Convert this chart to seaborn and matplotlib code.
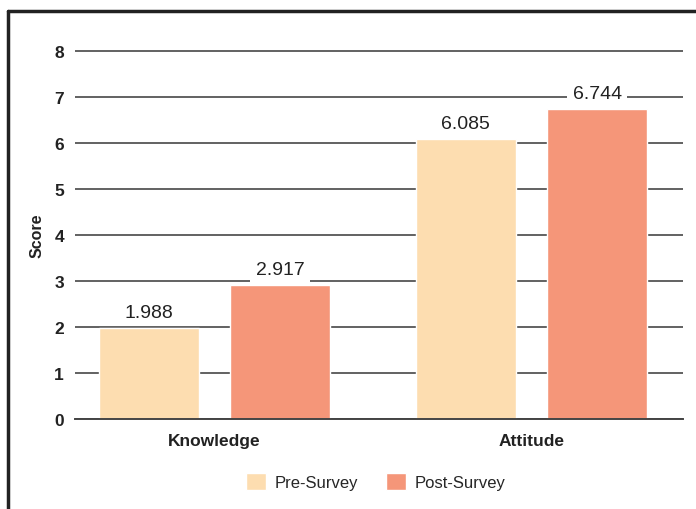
import pandas as pd
import seaborn as sns
import matplotlib.pyplot as plt
from matplotlib.lines import Line2D
from matplotlib import font_manager

# data
categories = ["Knowledge", "Attitude"]
surveys = ["Pre-Survey", "Post-Survey"]
pre_scores = [1.988, 6.085]
post_scores = [2.917, 6.744]
colors = ["#FDDDB0", "#F59679"]

df = pd.DataFrame({
    "category": categories * 2,
    "survey": [surveys[0]] * 2 + [surveys[1]] * 2,
    "score": pre_scores + post_scores,
})

sns.set_theme(style="white")
names = {f.name for f in font_manager.fontManager.ttflist}
fam = "Liberation Sans Narrow" if "Liberation Sans Narrow" in names else "Liberation Sans"
plt.rcParams["font.family"] = [fam, "DejaVu Sans"]

fig = plt.figure(figsize=(6.96, 5.10), dpi=100)
ax = fig.add_axes([0.1078, 0.1765, 0.8735, 0.7233])

sns.barplot(data=df, x="category", y="score", hue="survey", palette=colors,
            width=0.83, gap=0.237, saturation=1, ax=ax, zorder=2)

ax.set_ylim(0, 8.02)
ax.set_xlim(-0.44, 1.478)
ax.set_yticks(range(0, 9))
ax.yaxis.grid(True, color="#555555", linewidth=1.3, zorder=0)
ax.set_axisbelow(True)
for s in ["top", "right", "left"]:
    ax.spines[s].set_visible(False)
ax.spines["bottom"].set_color("#444444")
ax.spines["bottom"].set_linewidth(1.4)
ax.tick_params(axis="both", length=0, labelsize=12.5, colors="#222222")
ax.tick_params(axis="y", pad=8)
ax.tick_params(axis="x", pad=10)
for lab in ax.get_xticklabels() + ax.get_yticklabels():
    lab.set_fontweight("bold")
ax.set_xlabel("")
ax.set_ylabel("Score", fontsize=11.5, fontweight="bold", color="#222222", labelpad=7)

for cont in ax.containers:
    ax.bar_label(cont, fmt="%.3f", padding=5, fontsize=14, color="#222222",
                 bbox=dict(facecolor="white", edgecolor="none", pad=4))

ax.legend(loc="upper center", bbox_to_anchor=(0.495, -0.105), ncol=2, frameon=False,
          fontsize=12, handlelength=1.2, handleheight=1.2, columnspacing=1.7,
          handletextpad=0.5)

# partial dark frame (left and top edges)
fig.add_artist(Line2D([0.0115, 0.0115], [0.0, 0.976], color="#222222", linewidth=2.5))
fig.add_artist(Line2D([0.0115, 1.0], [0.976, 0.976], color="#222222", linewidth=2.5))

fig.savefig("out.png", dpi=100)
